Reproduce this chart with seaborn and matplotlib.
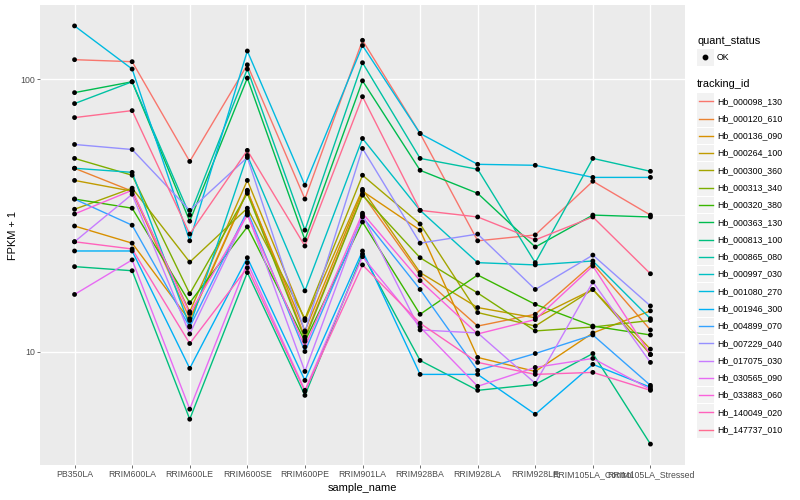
import matplotlib
matplotlib.use('Agg')
import matplotlib.pyplot as plt
import seaborn as sns
import pandas as pd
import numpy as np
from matplotlib.patches import Rectangle
from matplotlib.lines import Line2D
from matplotlib.ticker import FixedLocator, NullFormatter

plt.rcParams['font.family'] = ['Liberation Sans', 'DejaVu Sans']

sample_names = ["PB350LA", "RRIM600LA", "RRIM600LE", "RRIM600SE", "RRIM600PE",
                "RRIM901LA", "RRIM928BA", "RRIM928LA", "RRIM928LE",
                "RRIM105LA_Control", "RRIM105LA_Stressed"]

tracking_ids = ["Hb_000098_130", "Hb_000120_610", "Hb_000136_090", "Hb_000264_100",
                "Hb_000300_360", "Hb_000313_340", "Hb_000320_380", "Hb_000363_130",
                "Hb_000813_100", "Hb_000865_080", "Hb_000997_030", "Hb_001080_270",
                "Hb_001946_300", "Hb_004899_070", "Hb_007229_040", "Hb_017075_030",
                "Hb_030565_090", "Hb_033883_060", "Hb_140049_020", "Hb_147737_010"]

# FPKM + 1 values, one list per gene, in sample_names order
hb_000098_130 = [118, 116, 49.9, 113, 36.3, 139, 63.2, 25.5, 26.8, 42.2, 31.7]
hb_000120_610 = [47.1, 38.8, 13.2, 39.1, 11.3, 37.8, 19.1, 12.4, 13.7, 21.0, 12.0]
hb_000136_090 = [28.9, 25.0, 13.0, 38.8, 11.9, 38.8, 27.9, 9.51, 8.45, 11.7, 14.1]
hb_000264_100 = [42.5, 38.8, 14.0, 42.5, 13.0, 39.4, 19.5, 14.5, 13.3, 16.9, 10.2]
hb_000300_360 = [33.3, 39.8, 21.3, 33.6, 13.2, 44.4, 29.4, 13.9, 12.4, 16.9, 9.75]
hb_000313_340 = [51.2, 44.4, 16.3, 38.1, 11.1, 37.5, 22.1, 16.4, 11.9, 12.3, 13.0]
hb_000320_380 = [36.3, 33.6, 15.1, 28.7, 10.9, 29.9, 13.7, 19.1, 14.9, 12.4, 11.5]
hb_000363_130 = [89.3, 97.9, 30.1, 101, 25.7, 98.7, 46.3, 38.1, 24.2, 31.7, 31.2]
hb_000813_100 = [20.5, 19.8, 5.64, 19.5, 6.90, 22.8, 9.27, 7.20, 7.57, 9.83, 4.57]
hb_000865_080 = [81.4, 97.9, 31.7, 109, 27.9, 115, 51.2, 46.7, 21.2, 51.2, 45.9]
hb_000997_030 = [47.1, 45.5, 12.4, 52.5, 16.7, 60.6, 33.0, 21.2, 20.8, 21.5, 13.2]
hb_001080_270 = [157, 109, 25.5, 127, 40.8, 133, 63.2, 48.7, 48.3, 43.6, 43.6]
hb_001946_300 = [23.4, 23.4, 8.67, 22.1, 7.83, 23.4, 8.24, 8.24, 5.88, 8.97, 7.39]
hb_004899_070 = [36.3, 29.1, 12.3, 32.8, 10.0, 31.2, 16.9, 8.52, 9.83, 11.5, 7.51]
hb_007229_040 = [57.6, 55.2, 33.0, 51.6, 11.8, 55.7, 25.0, 27.0, 16.9, 22.6, 14.7]
hb_017075_030 = [25.3, 37.8, 11.6, 32.2, 8.45, 31.7, 12.0, 11.7, 7.64, 18.0, 9.12]
hb_030565_090 = [16.2, 21.7, 6.14, 21.2, 7.20, 22.3, 12.3, 7.45, 8.74, 9.43, 7.26]
hb_033883_060 = [32.0, 39.1, 13.8, 31.7, 10.4, 32.2, 18.2, 11.6, 13.1, 20.6, 9.75]
hb_140049_020 = [25.3, 23.8, 10.7, 20.3, 7.14, 20.8, 12.7, 9.12, 8.24, 8.38, 7.20]
hb_147737_010 = [72.3, 76.7, 27.0, 54.8, 24.4, 86.3, 33.0, 31.2, 25.7, 31.2, 19.3]

series = [hb_000098_130, hb_000120_610, hb_000136_090, hb_000264_100, hb_000300_360,
          hb_000313_340, hb_000320_380, hb_000363_130, hb_000813_100, hb_000865_080,
          hb_000997_030, hb_001080_270, hb_001946_300, hb_004899_070, hb_007229_040,
          hb_017075_030, hb_030565_090, hb_033883_060, hb_140049_020, hb_147737_010]

colors = ["#F8766D", "#EA8331", "#D89000", "#C09B00", "#A3A500", "#7CAE00", "#39B600",
          "#00BB4E", "#00BF7D", "#00C1A3", "#00BFC4", "#00BAE0", "#00B0F6", "#35A2FF",
          "#9590FF", "#C77CFF", "#E76BF3", "#FA62DB", "#FF62BC", "#FF6C91"]

rows = []
for tid, vals in zip(tracking_ids, series):
    for i, (s, v) in enumerate(zip(sample_names, vals)):
        rows.append({"tracking_id": tid, "sample_name": s, "pos": i, "fpkm": v,
                     "quant_status": "OK"})
df = pd.DataFrame(rows)

W, H = 800, 500
fig = plt.figure(figsize=(8, 5), dpi=100)
ax = fig.add_axes([40 / W, 35 / H, 645 / W, 460 / H])
ax.set_facecolor('#EBEBEB')
ax.set_yscale('log')

sns.lineplot(data=df, x='pos', y='fpkm', hue='tracking_id', hue_order=tracking_ids,
             palette=colors, estimator=None, sort=False, linewidth=1.0,
             legend=False, ax=ax, zorder=2)
sns.scatterplot(data=df, x='pos', y='fpkm', color='black', s=12, marker='o',
                edgecolor='none', legend=False, ax=ax, zorder=3)

lo = np.log10(df['fpkm'].min())
hi = np.log10(df['fpkm'].max())
pad = 0.05 * (hi - lo)
ax.set_ylim(10 ** (lo - pad), 10 ** (hi + pad))
ax.set_xlim(-0.6, len(sample_names) - 1 + 0.6)

ax.set_yticks([10, 100])
ax.set_yticklabels(['10', '100'])
ax.yaxis.set_minor_locator(FixedLocator([10 ** 1.5]))
ax.yaxis.set_minor_formatter(NullFormatter())
ax.set_xticks(range(len(sample_names)))
ax.set_xticklabels(sample_names)

ax.grid(which='major', color='white', linewidth=1.0)
ax.grid(which='minor', axis='y', color='white', linewidth=0.5)
ax.set_axisbelow(True)
for sp in ax.spines.values():
    sp.set_visible(False)
ax.tick_params(which='major', length=2.0, width=0.5, color='#333333',
               labelcolor='#4D4D4D', labelsize=6.3, pad=1.6)
ax.tick_params(which='minor', length=0)
ax.set_xlabel('sample_name', fontsize=7.9, labelpad=3)
ax.set_ylabel('FPKM + 1', fontsize=7.9, labelpad=1.5)

# legends (ggplot style)
def fx(x):
    return x / W

def fy(y):
    return 1 - y / H

fig.text(fx(697), fy(40.5), 'quant_status', fontsize=7.9, va='center', ha='left')
fig.add_artist(Rectangle((fx(697), fy(65.5)), 16.6 / W, 16.6 / H, transform=fig.transFigure,
                         facecolor='#F2F2F2', edgecolor='none'))
fig.add_artist(Line2D([fx(705.3)], [fy(57.2)], marker='o', markersize=3.2, color='black',
                      linestyle='none', transform=fig.transFigure))
fig.text(fx(717), fy(57.2), 'OK', fontsize=6.3, va='center', ha='left')

fig.text(fx(697), fy(84), 'tracking_id', fontsize=7.9, va='center', ha='left')
for i, (tid, c) in enumerate(zip(tracking_ids, colors)):
    yc = 101.3 + i * 17.28
    fig.add_artist(Rectangle((fx(697), fy(yc + 8.3)), 16.6 / W, 16.6 / H,
                             transform=fig.transFigure, facecolor='#F2F2F2', edgecolor='none'))
    fig.add_artist(Line2D([fx(698.5), fx(712.5)], [fy(yc), fy(yc)], color=c, linewidth=1.0,
                          transform=fig.transFigure))
    fig.text(fx(717), fy(yc), tid, fontsize=6.3, va='center', ha='left')

fig.savefig('out.png', dpi=100)
